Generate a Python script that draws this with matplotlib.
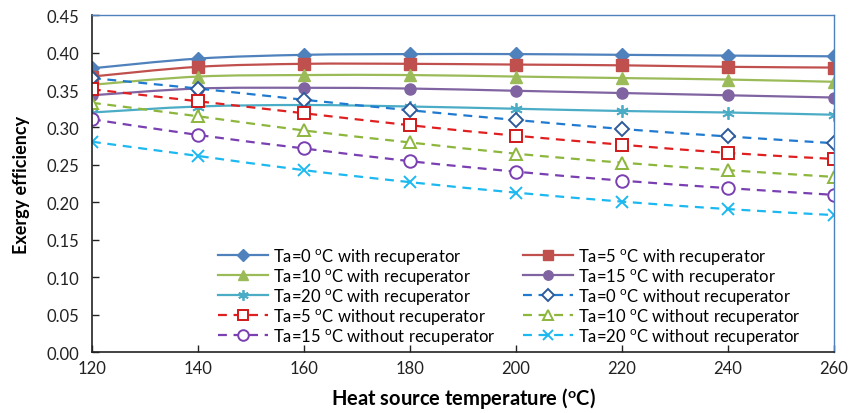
import matplotlib
matplotlib.use("Agg")
import matplotlib.pyplot as plt
from matplotlib.path import Path
from matplotlib.patches import PathPatch
from matplotlib.lines import Line2D

plt.rcParams['font.family'] = ['Lato', 'DejaVu Sans']
plt.rcParams['mathtext.fontset'] = 'custom'
plt.rcParams['mathtext.rm'] = 'Lato'
plt.rcParams['mathtext.it'] = 'Lato'
plt.rcParams['mathtext.bf'] = 'Lato:bold'

# ===== data =====
temps = [120, 140, 160, 180, 200, 220, 240, 260]

with_0 = [0.379, 0.392, 0.397, 0.398, 0.398, 0.397, 0.396, 0.395]
with_5 = [0.368, 0.381, 0.385, 0.385, 0.384, 0.383, 0.381, 0.380]
with_10 = [0.357, 0.368, 0.370, 0.370, 0.368, 0.366, 0.364, 0.361]
with_15 = [0.343, 0.352, 0.353, 0.352, 0.349, 0.346, 0.343, 0.340]
with_20 = [0.320, 0.328, 0.330, 0.328, 0.325, 0.322, 0.320, 0.317]

wo_0 = [0.366, 0.352, 0.337, 0.323, 0.310, 0.298, 0.288, 0.279]
wo_5 = [0.351, 0.335, 0.319, 0.303, 0.289, 0.277, 0.266, 0.258]
wo_10 = [0.333, 0.315, 0.296, 0.280, 0.265, 0.253, 0.243, 0.234]
wo_15 = [0.311, 0.290, 0.272, 0.255, 0.241, 0.229, 0.219, 0.210]
wo_20 = [0.281, 0.262, 0.243, 0.227, 0.213, 0.201, 0.191, 0.183]

ta_values = [0, 5, 10, 15, 20]
with_series = [with_0, with_5, with_10, with_15, with_20]
wo_series = [wo_0, wo_5, wo_10, wo_15, wo_20]

# ----- styles -----
with_colors = ['#4F81BD', '#C0504D', '#9BBB59', '#8064A2', '#4BACC6']
with_markers = ['D', 's', '^', 'o', (6, 2, 0)]
wo_line_colors = ['#1F7AD0', '#E02020', '#8CB63C', '#7A3FB0', '#1CB8F0']
wo_edge_colors = ['#2E5A9A', '#D01818', '#8CB63C', '#7A3FB0', '#1CB8F0']
wo_markers = ['D', 's', '^', 'o', 'x']
dash = (0, (4, 3))


# Excel-style smoothed line (bezier through the points)
def smooth_path(xs, ys):
    pts = list(zip(xs, ys))
    verts = [pts[0]]
    codes = [Path.MOVETO]
    n = len(pts)
    for i in range(n - 1):
        p0 = pts[max(i - 1, 0)]
        p1 = pts[i]
        p2 = pts[i + 1]
        p3 = pts[min(i + 2, n - 1)]
        c1 = (p1[0] + (p2[0] - p0[0]) / 6, p1[1] + (p2[1] - p0[1]) / 6)
        c2 = (p2[0] - (p3[0] - p1[0]) / 6, p2[1] - (p3[1] - p1[1]) / 6)
        verts += [c1, c2, p2]
        codes += [Path.CURVE4] * 3
    return Path(verts, codes)


fig = plt.figure(figsize=(8.51, 4.14), dpi=100)
ax = fig.add_axes([0.108, 0.147, 0.872, 0.814])

handles = {}
for ta, ys, c, m in zip(ta_values, with_series, with_colors, with_markers):
    ax.add_patch(PathPatch(smooth_path(temps, ys), fill=False, ec=c, lw=1.6))
    if m == (6, 2, 0):
        kw = dict(marker=m, ms=9, mec=c, mew=1.3)
    else:
        kw = dict(marker=m, ms=7 if m == 'D' else 8, mfc=c, mec=c)
    ax.plot(temps, ys, ls='none', **kw)
    handles[('w', ta)] = Line2D([], [], color=c, lw=1.6, **kw,
                                label=rf"Ta={ta} $^{{\mathrm{{o}}}}$C with recuperator")

for ta, ys, c, ec, m in zip(ta_values, wo_series, wo_line_colors, wo_edge_colors, wo_markers):
    ax.add_patch(PathPatch(smooth_path(temps, ys), fill=False, ec=c, lw=1.6, ls=dash))
    kw = dict(marker=m, ms=7 if m == 'D' else 9,
              mfc='white' if m != 'x' else ec, mec=ec, mew=1.4)
    ax.plot(temps, ys, ls='none', **kw)
    handles[('wo', ta)] = Line2D([], [], color=c, lw=1.6, ls=dash, **kw,
                                 label=rf"Ta={ta} $^{{\mathrm{{o}}}}$C without recuperator")

ax.set_xlim(120, 260)
ax.set_ylim(0, 0.45)
ax.set_xticks(range(120, 261, 20))
ax.set_yticks([i * 0.05 for i in range(10)])
ax.set_yticklabels([f"{i * 0.05:.2f}" for i in range(10)])
ax.tick_params(direction='in', length=5, width=1, labelsize=12, colors='#222222')
ax.tick_params(axis='x', pad=6)
ax.tick_params(axis='y', pad=9)

for s in ['left', 'bottom']:
    ax.spines[s].set_color('#222222')
    ax.spines[s].set_linewidth(1.2)
for s in ['top', 'right']:
    ax.spines[s].set_color('#4F81BD')
    ax.spines[s].set_linewidth(1.0)

ax.set_xlabel(r"Heat source temperature ($^{\mathbf{o}}$C)", fontsize=14.5,
              fontweight='bold', labelpad=6)
ax.set_ylabel("Exergy efficiency", fontsize=13, fontweight='bold', labelpad=12)

# legend: matplotlib fills by column, reference reads row by row
order = [('w', 0), ('w', 10), ('w', 20), ('wo', 5), ('wo', 15),
         ('w', 5), ('w', 15), ('wo', 0), ('wo', 10), ('wo', 20)]
leg = ax.legend([handles[k] for k in order], [handles[k].get_label() for k in order],
                ncol=2, frameon=False, fontsize=12, loc='lower left',
                bbox_to_anchor=(0.15, -0.025), handlelength=3.0, markerscale=0.85,
                columnspacing=1.6, labelspacing=0.0, handletextpad=0.3)

fig.savefig("out.png", dpi=100)
